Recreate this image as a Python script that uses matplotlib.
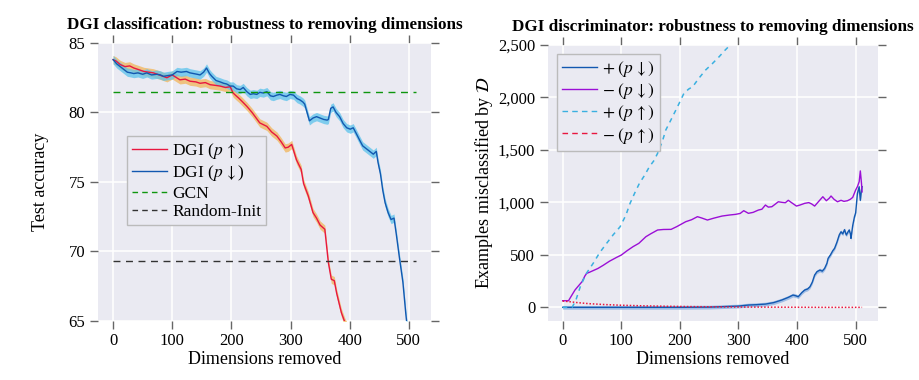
import numpy as np
import matplotlib
matplotlib.use("Agg")
import matplotlib.pyplot as plt
from matplotlib.lines import Line2D
from matplotlib.ticker import FuncFormatter

# left panel: test accuracy vs dimensions removed
red_x = [0, 5, 12, 20, 28, 35, 42, 52, 60, 68, 78, 91, 100, 113, 122, 130, 140, 147, 156, 164,
         173, 181, 190, 198, 203, 208, 212, 218, 226, 235, 248, 260, 268, 277, 284, 291, 296, 302,
         310, 318, 322, 330, 338, 344, 350, 358, 364, 369, 374, 378, 386, 392, 400]
red_y = [83.8, 83.7, 83.45, 83.3, 83.35, 83.2, 83.1, 82.95, 82.9, 82.85, 82.7, 82.5, 82.7, 82.35,
         82.4, 82.25, 82.2, 82.1, 82.15, 82.0, 81.95, 81.9, 81.8, 81.85, 81.4, 81.2, 81.05, 80.8,
         80.45, 80.0, 79.25, 79.0, 78.6, 78.3, 77.9, 77.45, 77.5, 77.7, 76.6, 75.9, 74.9, 74.0,
         72.8, 72.4, 71.9, 71.6, 69.2, 68.0, 67.9, 67.0, 65.6, 64.9, 64.2]

blue_x = [0, 6, 12, 18, 24, 30, 35, 42, 50, 57, 65, 74, 80, 85, 92, 100, 108, 115, 124, 130, 136,
          142, 147, 153, 158, 163, 167, 174, 181, 187, 192, 198, 203, 209, 215, 220, 226, 232, 237,
          243, 248, 254, 260, 266, 271, 277, 282, 288, 293, 299, 305, 311, 316, 321, 324, 328, 332,
          338, 344, 350, 356, 362, 364, 368, 372, 377, 383, 389, 395, 401, 406, 411, 417, 422, 428,
          434, 440, 445, 448, 452, 456, 460, 465, 470, 475, 479, 484, 490, 495, 500]
blue_y = [83.8, 83.5, 83.3, 83.1, 82.9, 82.85, 82.8, 82.85, 82.75, 82.85, 82.7, 82.75, 82.7, 82.6,
          82.65, 82.7, 82.95, 82.9, 82.95, 82.85, 82.8, 82.75, 82.7, 82.9, 83.2, 82.8, 82.6, 82.3,
          82.2, 82.1, 82.05, 81.9, 81.9, 81.7, 81.65, 81.8, 81.5, 81.3, 81.35, 81.3, 81.45, 81.4,
          81.5, 81.2, 81.15, 81.25, 81.3, 81.2, 81.15, 81.3, 81.25, 81.0, 80.9, 80.75, 80.6, 80.0,
          79.4, 79.6, 79.7, 79.6, 79.5, 79.45, 79.5, 80.3, 80.4, 80.0, 79.7, 79.2, 78.9, 78.8, 78.9,
          78.5, 78.0, 77.6, 77.4, 77.2, 77.0, 77.2, 76.4, 75.6, 74.4, 73.5, 72.8, 72.3, 72.4, 71.2,
          69.6, 67.8, 65.5, 63.5]

band_left = 0.3
gcn_acc = 81.5
random_init_acc = 69.3
baseline_x = [0, 512]

# right panel: examples misclassified by the discriminator
pd_x = [0, 50, 100, 150, 200, 250, 280, 300, 317, 330, 346, 360, 374, 385, 393, 398, 402, 408, 413,
        418, 422, 426, 430, 434, 439, 443, 447, 451, 453, 457, 461, 464, 468, 472, 475, 478, 481,
        484, 487, 489, 491, 492, 495, 498, 500, 503, 506, 508, 510, 511]
pd_y = [0, 0, 0, 0, 0, 2, 8, 12, 22, 25, 31, 45, 70, 95, 117, 110, 101, 140, 165, 175, 196, 240,
        308, 340, 355, 345, 371, 420, 467, 500, 540, 562, 620, 690, 720, 700, 740, 689, 720, 737,
        700, 657, 780, 864, 900, 1086, 1149, 1020, 1120, 1150]

md_x = [0, 10, 15, 21, 27, 33, 38, 41, 46, 52, 60, 69, 80, 92, 100, 110, 120, 130, 142, 150, 162,
        172, 185, 195, 210, 220, 230, 238, 247, 258, 272, 285, 295, 303, 309, 317, 325, 334, 340,
        346, 351, 357, 362, 368, 375, 380, 385, 390, 399, 405, 413, 420, 425, 430, 437, 444, 450,
        455, 458, 463, 469, 475, 480, 486, 491, 495, 500, 503, 506, 508, 510, 511]
md_y = [63, 63, 110, 165, 205, 244, 300, 324, 335, 350, 370, 400, 440, 476, 498, 540, 578, 610,
        673, 700, 737, 742, 743, 770, 816, 835, 864, 850, 832, 850, 870, 880, 886, 895, 921, 896,
        905, 927, 935, 975, 955, 959, 980, 1006, 1000, 997, 1020, 1000, 965, 975, 991, 998, 985,
        965, 1010, 1054, 1016, 1040, 1061, 1030, 1006, 1020, 1010, 1016, 1030, 1048, 1118, 1150,
        1197, 1300, 1180, 1100]

pu_x = [0, 16, 22, 30, 40, 52, 63, 75, 86, 98, 108, 115, 123, 131, 140, 148, 156, 162, 170, 176,
        186, 196, 207, 215, 222, 232, 244, 255, 267, 277, 286, 292]
pu_y = [0, 0, 60, 196, 320, 419, 520, 610, 690, 768, 880, 991, 1090, 1182, 1260, 1340, 1400, 1468,
        1580, 1690, 1800, 1912, 2040, 2080, 2103, 2180, 2262, 2320, 2388, 2450, 2500, 2560]

mu_x = [0, 10, 25, 45, 70, 100, 140, 180, 220, 260, 300, 350, 400, 450, 511]
mu_y = [60, 55, 45, 35, 27, 20, 14, 10, 7, 5, 3, 2, 1, 0, 0]

band_right = 18

plt.rcParams['font.family'] = ['Liberation Serif', 'DejaVu Serif']
plt.rcParams['mathtext.fontset'] = 'stix'

bg = '#eaeaf2'
tick_col = '#666666'

fig = plt.figure(figsize=(9.2, 3.8), dpi=100)
ax1 = fig.add_axes([0.1065, 0.1553, 0.362, 0.7316])
ax2 = fig.add_axes([0.5953, 0.1553, 0.3587, 0.7263])

for ax in (ax1, ax2):
    ax.set_facecolor(bg)
    ax.grid(True, color='white', linewidth=1.1)
    ax.set_axisbelow(True)
    for s in ax.spines.values():
        s.set_visible(False)
    ax.tick_params(which='both', direction='out', top=True, right=True, length=6,
                   color=tick_col, width=1, labelsize=12, pad=3)
    ax.set_xlim(-25.6, 537.6)
    ax.set_xticks([0, 100, 200, 300, 400, 500])
    ax.set_xlabel('Dimensions removed', fontsize=13, labelpad=1)

# ---- left
rx = np.array(red_x); ry = np.array(red_y)
bx = np.array(blue_x); by = np.array(blue_y)
ax1.fill_between(rx, ry - band_left, ry + band_left, color='#f2b55a', alpha=0.75, lw=0)
ax1.fill_between(bx, by - band_left, by + band_left, color='#5cc3ec', alpha=0.75, lw=0)
ax1.plot(rx, ry, color='#e8173f', lw=1)
ax1.plot(bx, by, color='#1258b0', lw=1)
ax1.plot(baseline_x, [gcn_acc] * 2, color='#0e960e', lw=1, ls=(0, (5, 4)))
ax1.plot(baseline_x, [random_init_acc] * 2, color='#333333', lw=1, ls=(0, (5, 4)))
ax1.set_ylim(65, 85)
ax1.set_yticks([65, 70, 75, 80, 85])
ax1.set_ylabel('Test accuracy', fontsize=13, labelpad=14)
ax1.set_title('DGI classification: robustness to removing dimensions', fontsize=12.3,
              fontweight='bold', pad=10)

h1 = [Line2D([], [], color='#e8173f', lw=1),
      Line2D([], [], color='#1258b0', lw=1),
      Line2D([], [], color='#0e960e', lw=1, ls=(0, (4, 3))),
      Line2D([], [], color='#333333', lw=1, ls=(0, (4, 3)))]
l1 = ['DGI ($p\\,\\uparrow$)', 'DGI ($p\\,\\downarrow$)', 'GCN', 'Random-Init']
leg = ax1.legend(h1, l1, loc='upper left', bbox_to_anchor=(0.087, 0.665), fontsize=12.5,
                 fancybox=False, facecolor=bg, edgecolor='#bbbbbb', framealpha=1,
                 handlelength=2.0, handletextpad=0.3, labelspacing=0.12, borderpad=0.3,
                 borderaxespad=0)
leg.get_frame().set_linewidth(1)

# ---- right
px_ = np.array(pd_x); py_ = np.array(pd_y)
ax2.fill_between(px_, py_ - band_right, py_ + band_right, color='#8fb4e3', alpha=0.8, lw=0)
ax2.plot(px_, py_, color='#1258b0', lw=1)
ax2.plot(md_x, md_y, color='#9b0fd6', lw=1)
ax2.plot(pu_x, pu_y, color='#3ab0e0', lw=1.1, ls=(0, (3, 3)))
ax2.plot(mu_x, mu_y, color='#e8173f', lw=1.1, ls=(0, (1, 1.2)))
ax2.set_ylim(-130, 2500)
ax2.set_yticks([0, 500, 1000, 1500, 2000, 2500])
ax2.yaxis.set_major_formatter(FuncFormatter(lambda v, p: '{:,.0f}'.format(v)))
ax2.set_ylabel('Examples misclassified by $\\mathcal{D}$', fontsize=13, labelpad=2)
ax2.set_title('DGI discriminator: robustness to removing dimensions', fontsize=12.3,
              fontweight='bold', pad=10)

h2 = [Line2D([], [], color='#1258b0', lw=1),
      Line2D([], [], color='#9b0fd6', lw=1),
      Line2D([], [], color='#3ab0e0', lw=1, ls=(0, (4, 3))),
      Line2D([], [], color='#e8173f', lw=1, ls=(0, (4, 3)))]
l2 = ['$+\\;(p\\,\\downarrow)$', '$-\\;(p\\,\\downarrow)$',
      '$+\\;(p\\,\\uparrow)$', '$-\\;(p\\,\\uparrow)$']
leg2 = ax2.legend(h2, l2, loc='upper left', bbox_to_anchor=(0.028, 0.967), fontsize=12.5,
                  fancybox=False, facecolor=bg, edgecolor='#bbbbbb', framealpha=1,
                  handlelength=2.0, handletextpad=0.3, labelspacing=0.12, borderpad=0.3,
                  borderaxespad=0)
leg2.get_frame().set_linewidth(1)

fig.savefig('out.png', dpi=100)
